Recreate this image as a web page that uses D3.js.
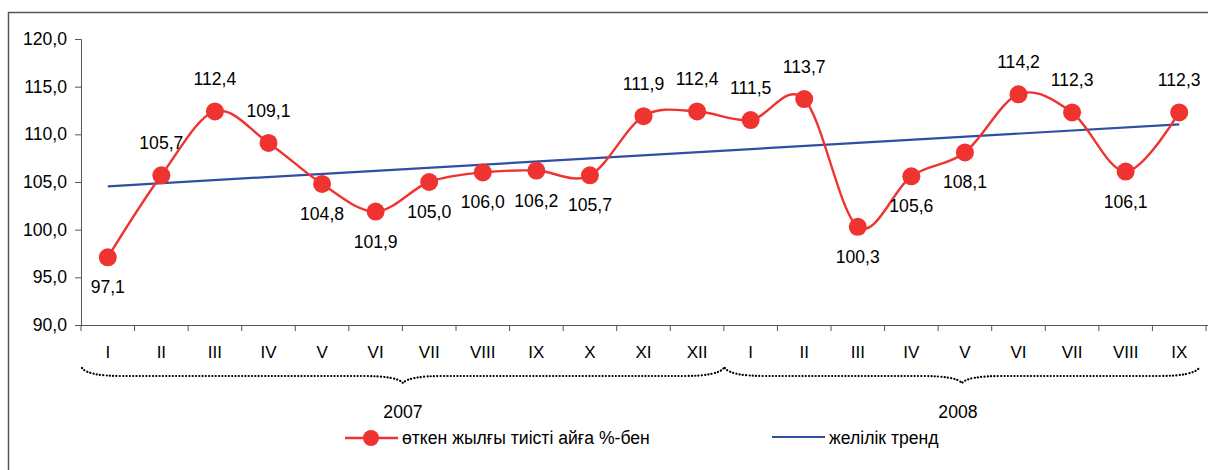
<!DOCTYPE html>
<html>
<head>
<meta charset="utf-8">
<script src="https://cdn.jsdelivr.net/npm/d3@7"></script>
<style>
  body { margin: 0; background: #fff; }
  svg text { font-family: "Liberation Sans", Arial, sans-serif; fill: #000; }
</style>
</head>
<body>
<div id="chart-area"></div>
<script>
// data
var months = ["I","II","III","IV","V","VI","VII","VIII","IX","X","XI","XII",
              "I","II","III","IV","V","VI","VII","VIII","IX"];
var values = [97.1, 105.7, 112.4, 109.1, 104.8, 101.9, 105.0, 106.0, 106.2, 105.7, 111.9, 112.4,
              111.5, 113.7, 100.3, 105.6, 108.1, 114.2, 112.3, 106.1, 112.3];
// label above (1) or below (-1) the point
var labelSide = [-1, 1, 1, 1, -1, -1, -1, -1, -1, -1, 1, 1,
                 1, 1, -1, -1, -1, 1, 1, -1, 1];
var trendEnds = [104.55, 111.05];
var years = ["2007", "2008"];
var yearSpans = [[0, 11], [12, 20]];
var yTicks = [90, 95, 100, 105, 110, 115, 120];
var seriesNames = ["өткен жылғы тиісті айға %-бен", "желілік тренд"];

var W = 1208, H = 470;
var margin = {left: 81, right: 2};
var FS = "17.6px";

var svg = d3.select("#chart-area").append("svg")
    .attr("width", W)
    .attr("height", H);

// outer frame (top and left visible)
svg.append("path")
    .attr("d", "M8.5," + H + "V12.5H" + W)
    .attr("fill", "none")
    .attr("stroke", "#555")
    .attr("stroke-width", 1.5);

var x = d3.scaleBand()
    .domain(d3.range(months.length))
    .range([margin.left, W - margin.right]);

var y = d3.scaleLinear()
    .domain([90, 120])
    .range([325, 39]);

var fmt = function (v) { return d3.format(".1f")(v).replace(".", ","); };

// y axis
var yAxis = d3.axisLeft(y).tickValues(yTicks).tickFormat(fmt).tickSize(6).tickPadding(8);
var gy = svg.append("g")
    .attr("transform", "translate(" + margin.left + ",0)")
    .call(yAxis);
gy.selectAll("text").style("font-size", FS);
gy.selectAll("path, line").attr("stroke", "#555");

// x axis
var xAxis = d3.axisBottom(x).tickFormat(function (i) { return months[i]; }).tickSize(0).tickPadding(21);
var gx = svg.append("g")
    .attr("transform", "translate(0,325)")
    .call(xAxis);
gx.select(".domain").attr("stroke", "#555").attr("d", "M" + margin.left + ",0.5H" + W);
gx.selectAll("text").style("font-size", "17px");
// band edge ticks
gx.selectAll(".edge")
    .data(d3.range(months.length + 1))
    .enter().append("line")
    .attr("x1", function (i) { return margin.left + i * x.step(); })
    .attr("x2", function (i) { return margin.left + i * x.step(); })
    .attr("y1", 0).attr("y2", 6)
    .attr("stroke", "#555");

// trend line
svg.append("line")
    .attr("x1", x(0) + x.bandwidth() / 2)
    .attr("x2", x(months.length - 1) + x.bandwidth() / 2)
    .attr("y1", y(trendEnds[0]))
    .attr("y2", y(trendEnds[1]))
    .attr("stroke", "#2f4fa3")
    .attr("stroke-width", 2.2);

// smoothed series line
var line = d3.line()
    .x(function (d, i) { return x(i) + x.bandwidth() / 2; })
    .y(function (d) { return y(d); })
    .curve(d3.curveCardinal.tension(0));

svg.append("path")
    .datum(values)
    .attr("d", line)
    .attr("fill", "none")
    .attr("stroke", "#ee3330")
    .attr("stroke-width", 2.4);

svg.selectAll(".dot")
    .data(values)
    .enter().append("circle")
    .attr("cx", function (d, i) { return x(i) + x.bandwidth() / 2; })
    .attr("cy", function (d) { return y(d); })
    .attr("r", 9)
    .attr("fill", "#ee3330");

svg.selectAll(".lbl")
    .data(values)
    .enter().append("text")
    .attr("x", function (d, i) { return x(i) + x.bandwidth() / 2; })
    .attr("y", function (d, i) { return y(d) + (labelSide[i] > 0 ? -26 : 36); })
    .attr("text-anchor", "middle")
    .style("font-size", FS)
    .text(function (d) { return fmt(d); });

// dotted braces under month labels
function brace(x0, x1) {
    var xm = (x0 + x1) / 2, top = 368, mid = 376, tip = 383;
    return "M" + x0 + "," + top +
        "Q" + (x0 + 6) + "," + mid + " " + (x0 + 40) + "," + mid +
        "L" + (xm - 40) + "," + mid +
        "Q" + (xm - 6) + "," + mid + " " + xm + "," + tip +
        "Q" + (xm + 6) + "," + mid + " " + (xm + 40) + "," + mid +
        "L" + (x1 - 40) + "," + mid +
        "Q" + (x1 - 6) + "," + mid + " " + x1 + "," + top;
}

yearSpans.forEach(function (s, k) {
    var x0 = x(s[0]) + 1;
    var x1 = k === yearSpans.length - 1 ? x(s[1]) + x.bandwidth() - 7 : x(s[1]) + x.bandwidth();
    svg.append("path")
        .attr("d", brace(x0, x1))
        .attr("fill", "none")
        .attr("stroke", "#000")
        .attr("stroke-width", 2.2)
        .attr("stroke-linecap", "round")
        .attr("stroke-dasharray", "0.1,3.2");
    svg.append("text")
        .attr("x", (x0 + x1) / 2 - (k === 1 ? 4 : 0))
        .attr("y", 418)
        .attr("text-anchor", "middle")
        .style("font-size", FS)
        .text(years[k]);
});

// legend
var lg = svg.append("g");
lg.append("line").attr("x1", 345).attr("x2", 398).attr("y1", 438).attr("y2", 438)
    .attr("stroke", "#ee3330").attr("stroke-width", 2.4);
lg.append("circle").attr("cx", 371).attr("cy", 438).attr("r", 8).attr("fill", "#ee3330");
lg.append("text").attr("x", 402).attr("y", 444).style("font-size", FS).text(seriesNames[0]);
lg.append("line").attr("x1", 772).attr("x2", 825).attr("y1", 437).attr("y2", 437)
    .attr("stroke", "#2f4fa3").attr("stroke-width", 2.2);
lg.append("text").attr("x", 829).attr("y", 444).style("font-size", FS).text(seriesNames[1]);
</script>
</body>
</html>
